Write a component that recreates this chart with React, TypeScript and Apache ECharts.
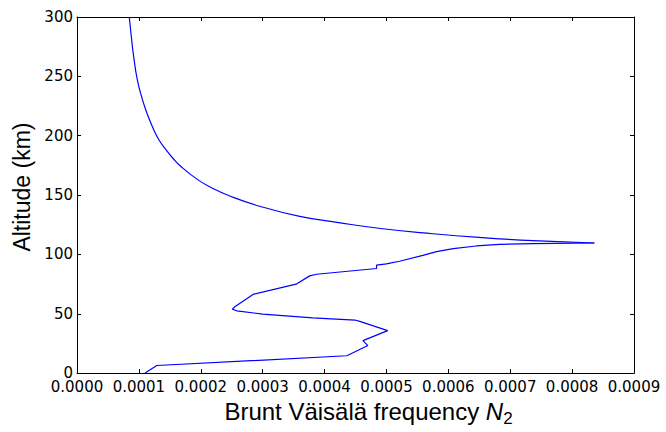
import React, { useEffect, useRef } from "react";
import * as echarts from "echarts";

// Lower, jagged part of the profile: altitude (km) and Brunt–Väisälä frequency N2
const lowAltitude = [
  0, 6.4, 14.6, 23.2, 27.4, 35.8, 43.6, 44.7, 46.6, 49.7, 52.5, 53.9, 55.9, 66.5,
  74.9, 81.9, 83.3, 88.1, 90.9, 92.0, 94.2, 99.2, 102.3, 104.9, 107.1, 108.5, 109.1,
  109.6,
];
const lowN2 = [
  0.00011, 0.000129, 0.000436, 0.00047, 0.000462, 0.000502, 0.000457, 0.000449, 0.000381,
  0.0003, 0.000258, 0.000251, 0.000255, 0.000285, 0.000354, 0.000376, 0.000387, 0.000484,
  0.000484, 0.0005, 0.000521, 0.000559, 0.000581, 0.000608, 0.000645, 0.000683, 0.000737,
  0.000836,
];
// Upper, smooth part of the profile
const highAltitude = [
  109.6, 111.6, 114.1, 117.4, 121.6, 127.0, 132.0, 140.6, 149.6, 156, 163, 174, 181, 188,
  196, 205, 219, 230, 247, 269, 280, 300,
];
const highN2 = [
  0.000836, 0.000737, 0.000656, 0.000575, 0.000494, 0.00042, 0.00036, 0.000295, 0.000245,
  0.000218, 0.000195, 0.000168, 0.000155, 0.000144, 0.000133, 0.000124, 0.000113, 0.000106,
  0.0000975, 0.000091, 0.0000885, 0.0000844,
];

const xMin = 0;
const xMax = 0.0009;
const xStep = 0.0001;
const yMin = 0;
const yMax = 300;
const yStep = 50;
const xTitle = "Brunt Väisälä frequency ";
const xTitleVar = "N";
const xTitleSub = "2";
const yTitle = "Altitude (km)";

export default function App() {
  const ref = useRef<HTMLDivElement>(null);
  useEffect(() => {
    if (!ref.current) return;
    const chart = echarts.init(ref.current, undefined, { renderer: "svg" });
    const axisLine = { show: true, onZero: false, lineStyle: { color: "#000", width: 1 } };
    const tick = { show: true, inside: true, length: 4, lineStyle: { color: "#000", width: 1 } };
    const tickFont = { fontFamily: "DejaVu Sans", fontSize: 15, color: "#000" };
    const lineStyle = { color: "#0000ff", width: 1.2 };
    chart.setOption({
      animation: false,
      backgroundColor: "#fff",
      grid: { left: 77, right: 32, top: 17, bottom: 58, containLabel: false },
      xAxis: [
        {
          type: "value",
          min: xMin,
          max: xMax,
          interval: xStep,
          position: "bottom",
          axisLine,
          axisTick: tick,
          splitLine: { show: false },
          axisLabel: { ...tickFont, margin: 6, formatter: (v: number) => v.toFixed(4) },
          name: `{a|${xTitle}}{i|${xTitleVar}}{s|${xTitleSub}}`,
          nameLocation: "middle",
          nameGap: 20,
          nameTextStyle: {
            padding: [0, 0, 0, 26],
            rich: {
              a: { fontFamily: "Liberation Sans", fontSize: 24, color: "#000" },
              i: { fontFamily: "Liberation Sans", fontSize: 24, fontStyle: "italic", color: "#000" },
              s: { fontFamily: "Liberation Sans", fontSize: 17, color: "#000", padding: [15, 0, 0, 0] },
            },
          },
        },
        {
          type: "value",
          min: xMin,
          max: xMax,
          interval: xStep,
          position: "top",
          axisLine,
          axisTick: tick,
          splitLine: { show: false },
          axisLabel: { show: false },
        },
      ],
      yAxis: [
        {
          type: "value",
          min: yMin,
          max: yMax,
          interval: yStep,
          position: "left",
          axisLine,
          axisTick: tick,
          splitLine: { show: false },
          axisLabel: { ...tickFont, margin: 4 },
          name: yTitle,
          nameLocation: "middle",
          nameGap: 41,
          nameTextStyle: {
            fontFamily: "Liberation Sans",
            fontSize: 23,
            color: "#000",
            padding: [0, 0, 0, 16],
          },
        },
        {
          type: "value",
          min: yMin,
          max: yMax,
          interval: yStep,
          position: "right",
          axisLine,
          axisTick: tick,
          splitLine: { show: false },
          axisLabel: { show: false },
        },
      ],
      series: [
        {
          type: "line",
          xAxisIndex: 0,
          yAxisIndex: 0,
          data: lowAltitude.map((a, i) => [lowN2[i], a]),
          symbol: "none",
          lineStyle,
        },
        {
          type: "line",
          xAxisIndex: 0,
          yAxisIndex: 0,
          data: highAltitude.map((a, i) => [highN2[i], a]),
          symbol: "none",
          smooth: 0.5,
          lineStyle,
        },
      ],
    });
    return () => chart.dispose();
  }, []);
  return (
    <div
      ref={ref}
      style={{ position: "fixed", left: 0, top: 0, width: 666, height: 432, background: "#fff" }}
    />
  );
}
